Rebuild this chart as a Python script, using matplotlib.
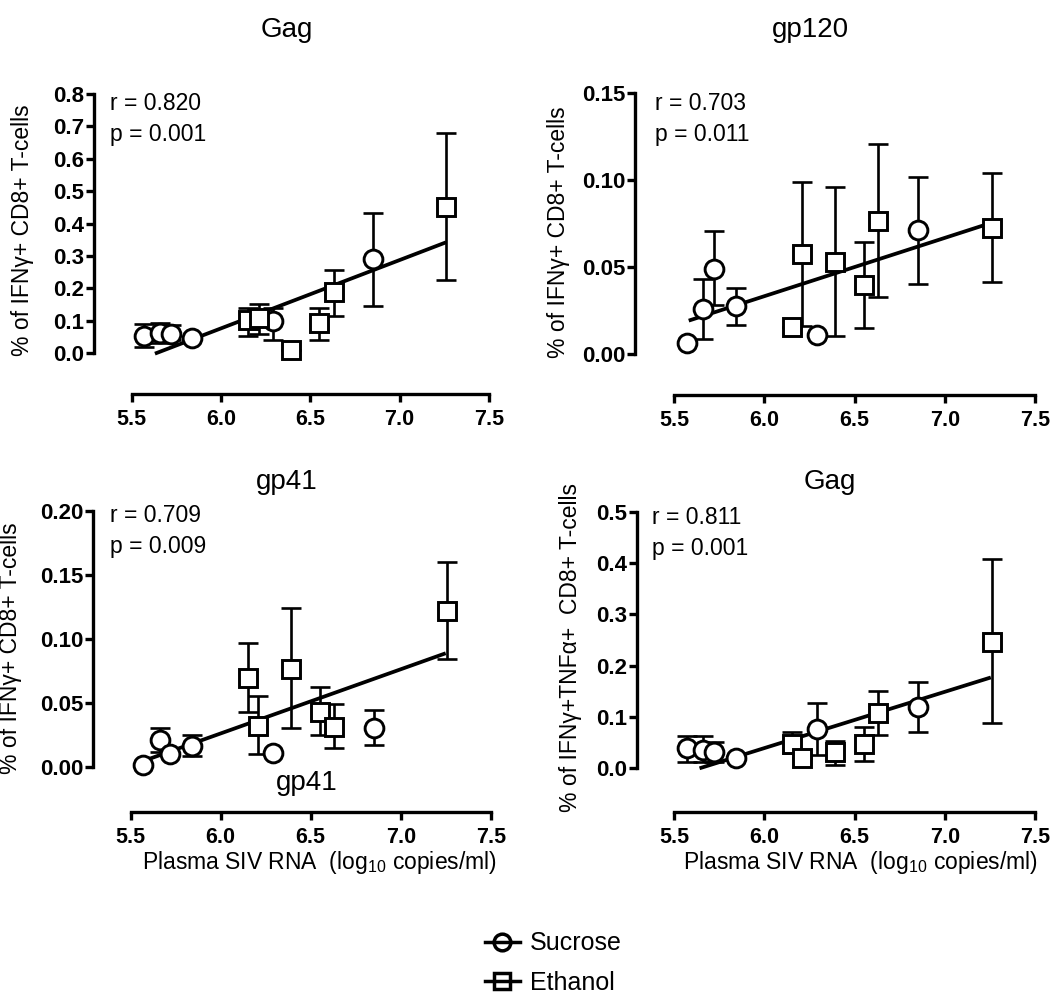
import matplotlib
matplotlib.use("Agg")
import matplotlib.pyplot as plt
from matplotlib.lines import Line2D

plt.rcParams['font.family'] = ['Liberation Sans', 'DejaVu Sans']
plt.rcParams['mathtext.default'] = 'regular'

# ---- Daten ----
x_suc = [5.57, 5.66, 5.72, 5.84, 6.29, 6.85]
x_eth = [6.15, 6.21, 6.39, 6.55, 6.63, 7.26]

# Gag (IFNg)
gag_suc = [0.051, 0.062, 0.060, 0.045, 0.098, 0.290]
gag_suc_lo = [0.019, 0.030, 0.040, 0.045, 0.041, 0.144]
gag_suc_hi = [0.090, 0.093, 0.085, 0.045, 0.140, 0.433]
gag_eth = [0.103, 0.108, 0.010, 0.093, 0.187, 0.451]
gag_eth_lo = [0.054, 0.060, 0.010, 0.041, 0.113, 0.225]
gag_eth_hi = [0.139, 0.150, 0.010, 0.139, 0.257, 0.680]
gag_fit_x = [5.63, 7.26]
gag_fit_y = [-0.002, 0.342]

# gp120
gp120_suc = [0.0065, 0.026, 0.049, 0.0276, 0.011, 0.0713]
gp120_suc_lo = [0.0065, 0.0084, 0.028, 0.0167, 0.011, 0.040]
gp120_suc_hi = [0.0065, 0.043, 0.071, 0.038, 0.011, 0.102]
gp120_eth = [0.0153, 0.0575, 0.053, 0.0397, 0.0767, 0.0723]
gp120_eth_lo = [0.0153, 0.016, 0.0105, 0.0148, 0.0326, 0.0416]
gp120_eth_hi = [0.0153, 0.0988, 0.0963, 0.0646, 0.1208, 0.104]
gp120_fit_x = [5.58, 7.25]
gp120_fit_y = [0.0192, 0.0752]

# gp41
gp41_suc = [0.002, 0.021, 0.0104, 0.0166, 0.011, 0.0304]
gp41_suc_lo = [0.002, 0.012, 0.0104, 0.0088, 0.011, 0.0174]
gp41_suc_hi = [0.002, 0.0304, 0.0104, 0.025, 0.011, 0.045]
gp41_eth = [0.070, 0.0325, 0.0767, 0.0434, 0.0317, 0.122]
gp41_eth_lo = [0.0434, 0.0101, 0.0304, 0.0252, 0.0148, 0.0843]
gp41_eth_hi = [0.0967, 0.0557, 0.124, 0.0624, 0.0494, 0.160]
gp41_fit_x = [5.56, 7.25]
gp41_fit_y = [0.0044, 0.089]

# Gag (IFNg+TNFa)
tnf_suc = [0.039, 0.036, 0.032, 0.021, 0.076, 0.120]
tnf_suc_lo = [0.013, 0.013, 0.012, 0.021, 0.026, 0.070]
tnf_suc_hi = [0.063, 0.063, 0.052, 0.021, 0.128, 0.168]
tnf_eth = [0.047, 0.021, 0.032, 0.047, 0.107, 0.247]
tnf_eth_lo = [0.029, 0.021, 0.0065, 0.015, 0.065, 0.088]
tnf_eth_hi = [0.071, 0.021, 0.053, 0.081, 0.151, 0.408]
tnf_fit_x = [5.64, 7.255]
tnf_fit_y = [0.0, 0.177]

titles = ["Gag", "gp120", "gp41", "Gag"]
stats = [("r = 0.820", "p = 0.001"), ("r = 0.703", "p = 0.011"),
         ("r = 0.709", "p = 0.009"), ("r = 0.811", "p = 0.001")]
ylabels = ["% of IFNγ+ CD8+ T-cells", "% of IFNγ+ CD8+ T-cells",
           "% of IFNγ+ CD8+ T-cells", "% of IFNγ+TNFα+  CD8+ T-cells"]
yticks = [[0.0, 0.1, 0.2, 0.3, 0.4, 0.5, 0.6, 0.7, 0.8],
          [0.00, 0.05, 0.10, 0.15],
          [0.00, 0.05, 0.10, 0.15, 0.20],
          [0.0, 0.1, 0.2, 0.3, 0.4, 0.5]]
yfmt = ["{:.1f}", "{:.2f}", "{:.2f}", "{:.1f}"]
xticks = [5.5, 6.0, 6.5, 7.0, 7.5]
xlabel = "Plasma SIV RNA  (log$_{10}$ copies/ml)"

W, H = 1050, 993
fig = plt.figure(figsize=(W / 100, H / 100), dpi=100)

# Pixel-Layout je Panel: y-Achse links, x=5.5 Pixel, x=7.5 Pixel, y=ymax Pixel, y=0 Pixel, x-Achse Pixel
layout = [
    (94, 131.7, 489, 94, 353, 394),
    (635, 674.3, 1035, 93.3, 354, 395),
    (93, 130.7, 490.7, 511, 767.3, 811.7),
    (636.7, 674.3, 1035, 511.7, 768.3, 812),
]
title_pos = [(287, 30), (810, 30), (287, 482), (830, 482)]
stat_pos = [(110, 103, 135), (655, 103, 135), (110, 515, 547), (652, 517, 548)]
ylab_pos = [(23, 230), (559, 232), (11, 648), (571, 648)]
xlab_pos = [(319, 862), (860, 862)]

panels = [
    (gag_suc, gag_suc_lo, gag_suc_hi, gag_eth, gag_eth_lo, gag_eth_hi, gag_fit_x, gag_fit_y),
    (gp120_suc, gp120_suc_lo, gp120_suc_hi, gp120_eth, gp120_eth_lo, gp120_eth_hi, gp120_fit_x, gp120_fit_y),
    (gp41_suc, gp41_suc_lo, gp41_suc_hi, gp41_eth, gp41_eth_lo, gp41_eth_hi, gp41_fit_x, gp41_fit_y),
    (tnf_suc, tnf_suc_lo, tnf_suc_hi, tnf_eth, tnf_eth_lo, tnf_eth_hi, tnf_fit_x, tnf_fit_y),
]

for i, (ys, ys_lo, ys_hi, ye, ye_lo, ye_hi, fx, fy) in enumerate(panels):
    left, p55, p75, ptop, p0, pbot = layout[i]
    ymax = yticks[i][-1]
    xs = (p75 - p55) / 2.0
    ys_px = (p0 - ptop) / ymax
    ax = fig.add_axes([left / W, 1 - pbot / H, (p75 - left) / W, (pbot - ptop) / H])
    ax.set_xlim(5.5 - (p55 - left) / xs, 7.5)
    ax.set_ylim(-(pbot - p0) / ys_px, ymax)

    ax.plot(fx, fy, color='black', lw=2.7, solid_capstyle='butt', zorder=2)

    for xv, yv, lo, hi, mk, ms in [(x_suc, ys, ys_lo, ys_hi, 'o', 13.5),
                                   (x_eth, ye, ye_lo, ye_hi, 's', 12.5)]:
        err = [[y - l for y, l in zip(yv, lo)], [h - y for y, h in zip(yv, hi)]]
        ax.errorbar(xv, yv, yerr=err, fmt='none', ecolor='black', elinewidth=1.9,
                    capsize=7, capthick=1.9, zorder=3, clip_on=False)
        ax.plot(xv, yv, linestyle='none', marker=mk, ms=ms, mfc='white', mec='black',
                mew=2.1, zorder=4, clip_on=False)

    for s in ['top', 'right']:
        ax.spines[s].set_visible(False)
    ax.spines['left'].set_bounds(0, ymax)
    ax.spines['bottom'].set_bounds(5.5, 7.5)
    for s in ['left', 'bottom']:
        ax.spines[s].set_linewidth(2.4)
        ax.spines[s].set_capstyle('projecting')
    ax.set_xticks(xticks)
    ax.set_xticklabels(["{:.1f}".format(t) for t in xticks], fontsize=15.5, fontweight='bold')
    ax.set_yticks(yticks[i])
    ax.set_yticklabels([yfmt[i].format(t) for t in yticks[i]], fontsize=16, fontweight='bold')
    ax.tick_params(axis='y', direction='out', length=6, width=2.4, pad=1)
    ax.tick_params(axis='x', direction='out', length=6, width=2.4, pad=5)
    ax.patch.set_visible(False)

    tx, ty = title_pos[i]
    fig.text(tx / W, 1 - ty / H, titles[i], fontsize=20, ha='center', va='center')
    sx, ry, py = stat_pos[i]
    fig.text(sx / W, 1 - ry / H, stats[i][0], fontsize=16.5, ha='left', va='center')
    fig.text(sx / W, 1 - py / H, stats[i][1], fontsize=16.5, ha='left', va='center')
    lx, ly = ylab_pos[i]
    fig.text(lx / W, 1 - ly / H, ylabels[i], fontsize=16.5, rotation=90, ha='center', va='center')

for lx, ly in xlab_pos:
    fig.text(lx / W, 1 - ly / H, xlabel, fontsize=16.5, ha='center', va='center')

# verirrtes Label im gp41-Panel
fig.text(307 / W, 1 - 783 / H, "gp41", fontsize=20, ha='center', va='center')

# Legende
handles = [Line2D([], [], color='black', lw=2.5, marker='o', ms=12, mfc='none', mec='black', mew=2.5),
           Line2D([], [], color='black', lw=2.5, marker='s', ms=11, mfc='none', mec='black', mew=2.5)]
fig.legend(handles, ["Sucrose", "Ethanol"], loc='center', bbox_to_anchor=(553 / W, 1 - 963 / H),
           frameon=False, fontsize=18, handlelength=1.4, handletextpad=0.4, labelspacing=0.6)

fig.savefig("out.png", dpi=100)
